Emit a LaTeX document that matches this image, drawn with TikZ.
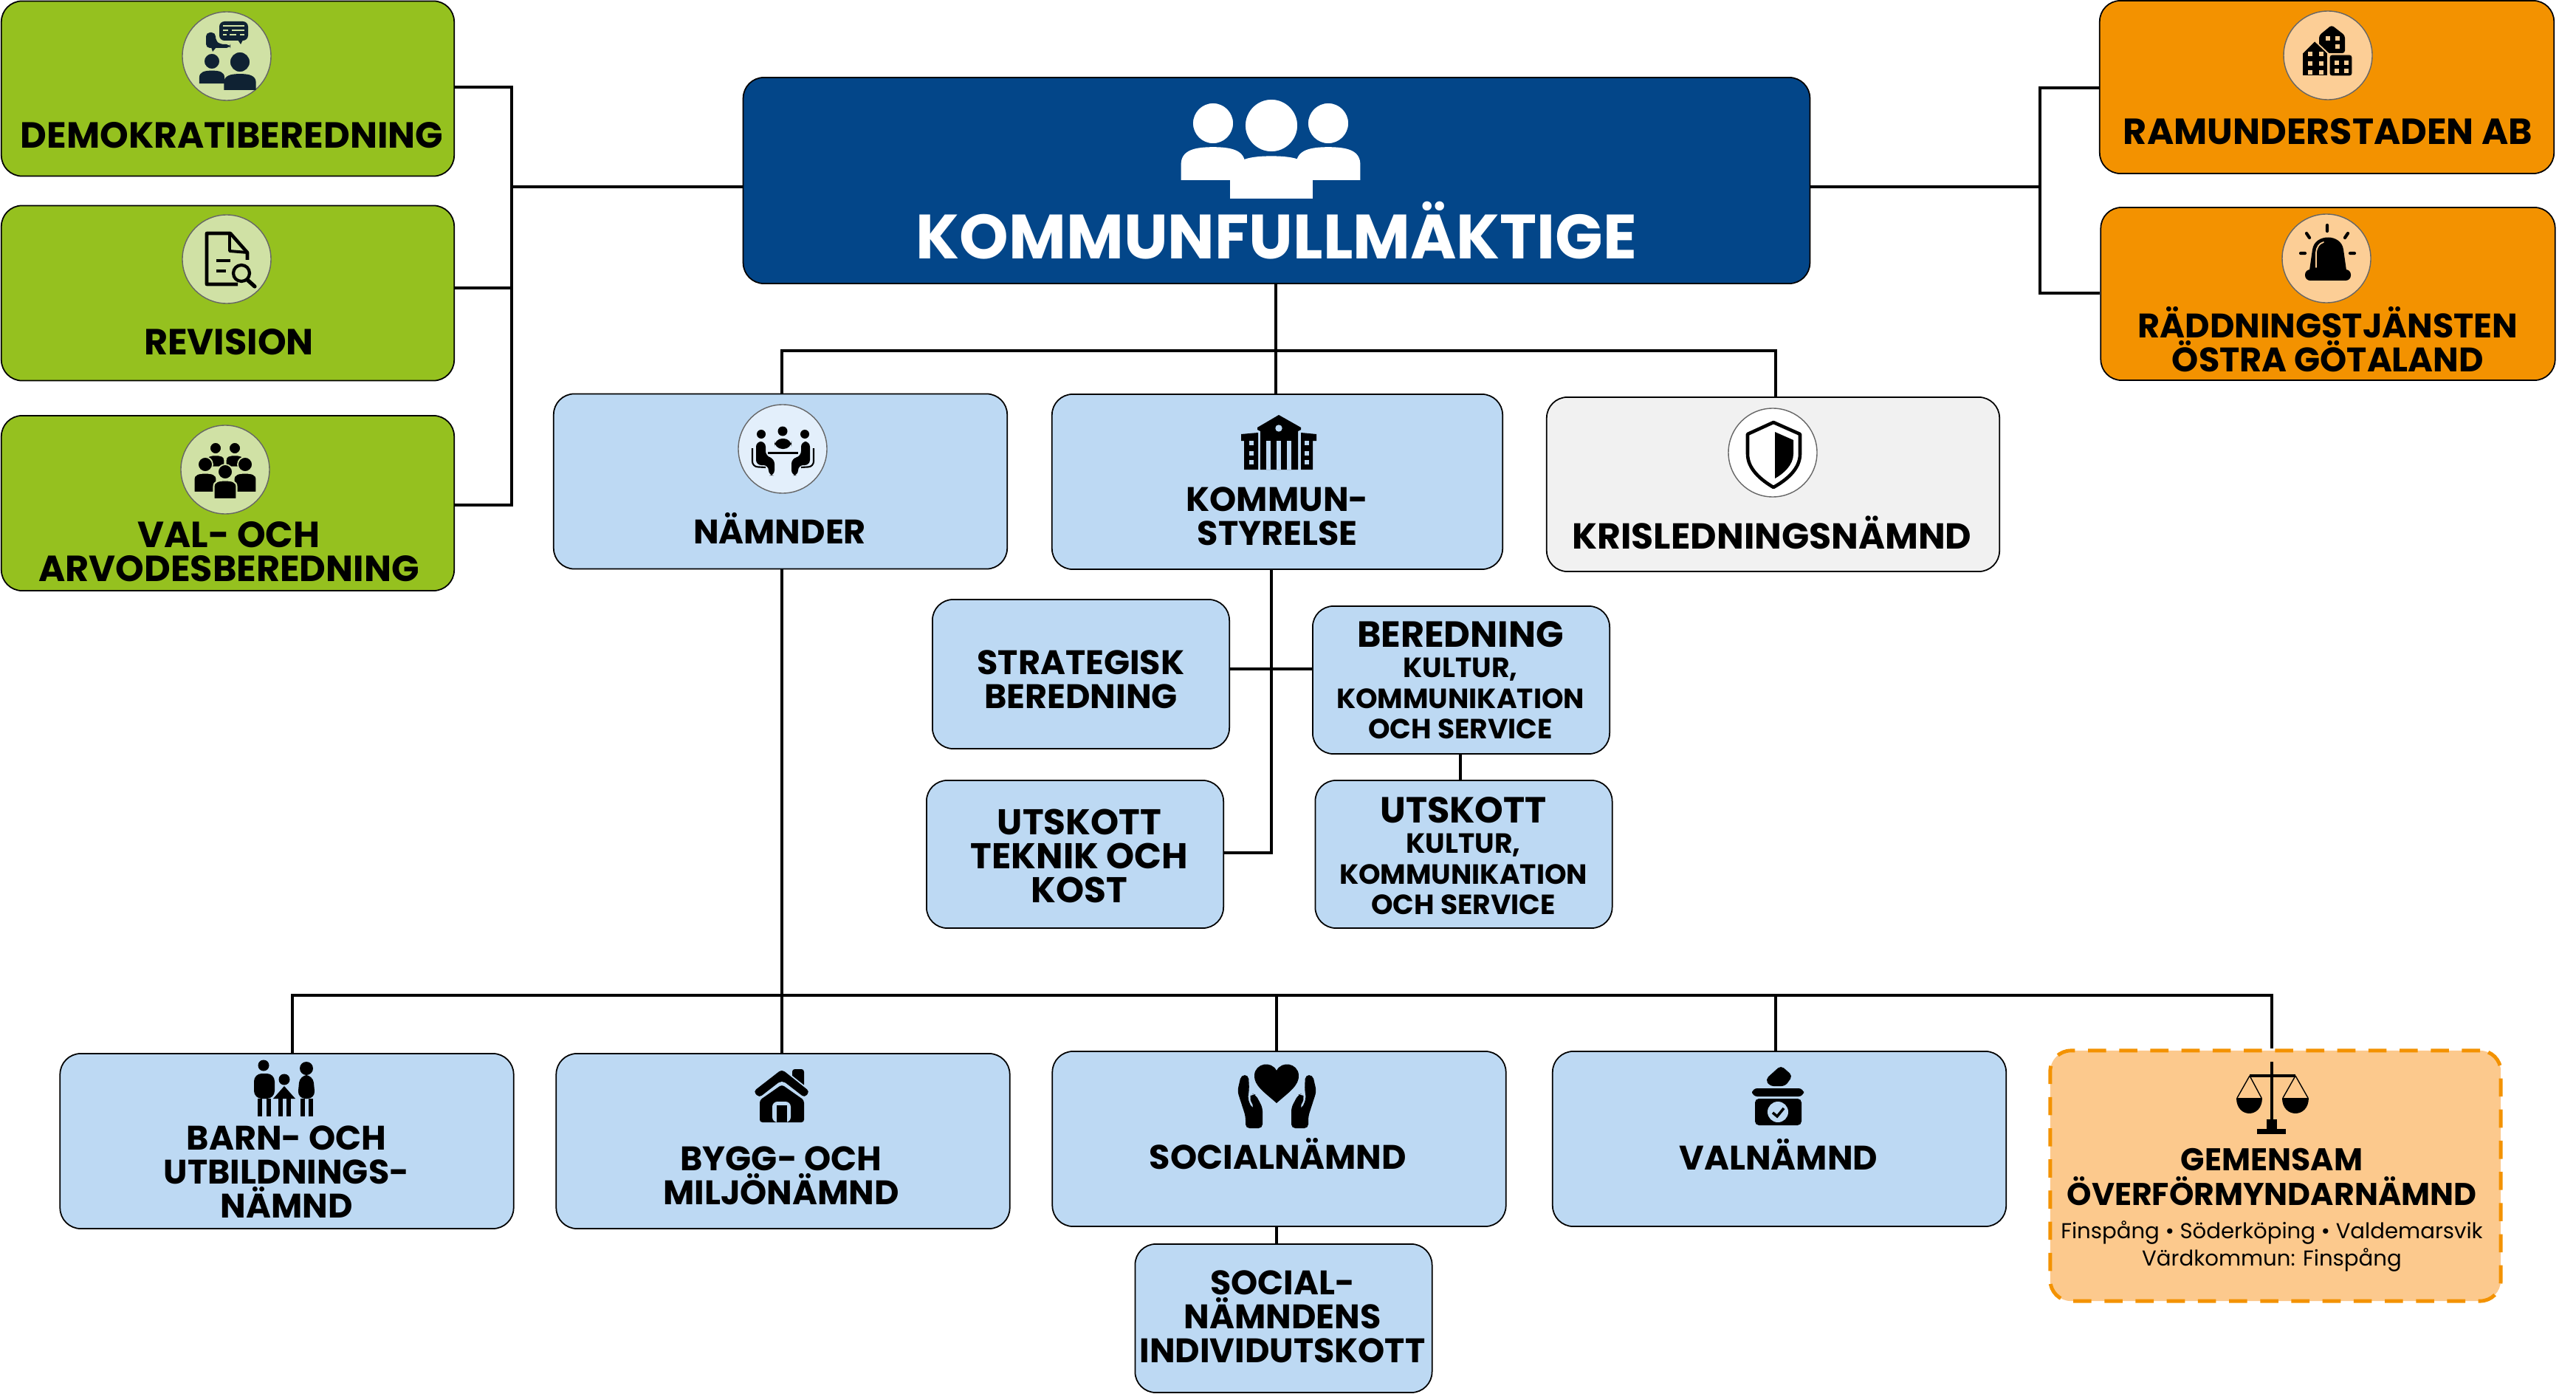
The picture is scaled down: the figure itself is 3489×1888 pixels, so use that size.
\documentclass[tikz,border=0pt]{standalone}
\usepackage{fontspec}
\setmainfont{Poppins}
\usepackage{xcolor}
\usetikzlibrary{positioning, calc}
\definecolor{kfblue}{RGB}{3,70,137}
\definecolor{greenfill}{RGB}{149,193,31}
\definecolor{greenicon}{RGB}{208,225,165}
\definecolor{orangefill}{RGB}{243,146,0}
\definecolor{orangeicon}{RGB}{252,206,150}
\definecolor{bluefill}{RGB}{189,217,243}
\definecolor{blueicon}{RGB}{227,239,251}
\definecolor{greyfill}{RGB}{241,241,241}
\definecolor{peachfill}{RGB}{252,201,141}
\definecolor{iconnavy}{RGB}{15,34,51}
% head and body of one person: x, y, head radius, colour, colour round the head, body length
\newcommand{\personicon}[6]{%
  \fill[#4, personbody] ({#1-1.55*#3},{#2+#6*#3}) -- ({#1-1.55*#3},{#2+2*#3})
    .. controls ({#1-1.55*#3},{#2+1.3*#3}) and ({#1-.9*#3},{#2+1.15*#3}) .. ({#1},{#2+1.15*#3})
    .. controls ({#1+.9*#3},{#2+1.15*#3}) and ({#1+1.55*#3},{#2+1.3*#3}) .. ({#1+1.55*#3},{#2+2*#3})
    -- ({#1+1.55*#3},{#2+#6*#3}) -- cycle;
  \filldraw[fill=#4, draw=#5, line width=.5pt] (#1,#2) circle (#3);
}
\begin{document}
\begin{tikzpicture}[
    x=0.01cm, y=-0.01cm,
    box/.style={rectangle, draw, line width=.5pt, rounded corners=8pt, inner sep=0pt, align=center},
    greenbox/.style={box, fill=greenfill, minimum width=6.13cm, minimum height=2.37cm},
    orangebox/.style={box, fill=orangefill, minimum width=6.15cm, minimum height=2.34cm},
    bluebox/.style={box, fill=bluefill, minimum width=6.14cm, minimum height=2.37cm},
    midbox/.style={box, fill=bluefill, minimum width=4.02cm, minimum height=2cm},
    boxtext/.style={inner sep=0pt, align=center, font=\fontsize{13.1}{13.1}\selectfont\bfseries},
    widetext/.style={boxtext, font=\fontsize{14}{13.1}\selectfont\bfseries},
    smalltext/.style={inner sep=0pt, align=center, font=\fontsize{10.7}{11.8}\selectfont\bfseries},
    iconcircle/.style={draw=black!60, line width=.4pt},
    personbody/.style={},
    conn/.style={draw, line width=1.2pt}
]
\useasboundingbox (0,0) rectangle (3489,1888);

\node[box, fill=kfblue, minimum width=14.44cm, minimum height=2.79cm] (kf) at (1729,244.5) {};
\node[inner sep=0pt, text=white, font=\fontsize{24.1}{24}\selectfont\bfseries] (kftext) at (1729,312) {KOMMUNFULLMÄKTIGE};

\node[greenbox] (demokrati) at (308.5,120) {};
\node[greenbox] (revision) at (308.5,397) {};
\node[greenbox] (valarvode) at (308.5,681.5) {};
\node[widetext] (demokratitext) at (314,183) {DEMOKRATIBEREDNING};
\node[widetext] (revisiontext) at (310,463) {REVISION};
\node[widetext] (valarvodetext) at (310,747) {VAL- OCH\\ ARVODESBEREDNING};

\node[orangebox] (ramunder) at (3151.5,118) {};
\node[orangebox, minimum height=2.34cm] (raddning) at (3153,398) {};
\node[widetext] (ramundertext) at (3153,178) {RAMUNDERSTADEN AB};
\node[boxtext] (raddningtext) at (3153,460) {RÄDDNINGSTJÄNSTEN\\ ÖSTRA GÖTALAND};

\node[bluebox] (namnder) at (1057,652) {};
\node[bluebox, minimum width=6.1cm] (styrelse) at (1730,652.5) {};
\node[box, fill=greyfill, minimum width=6.13cm, minimum height=2.36cm] (kris) at (2401.5,656) {};
\node[boxtext] (namndertext) at (1056,715) {NÄMNDER};
\node[boxtext] (styrelsetext) at (1730,699) {KOMMUN-\\ STYRELSE};
\node[boxtext, font=\fontsize{13.9}{13.1}\selectfont\bfseries] (kristext) at (2400,721) {KRISLEDNINGSNÄMND};

\node[midbox, minimum height=2.02cm] (strategisk) at (1464,913) {};
\node[midbox] (beredning) at (1979,921) {};
\node[midbox] (teknik) at (1456,1157) {};
\node[midbox] (kultur) at (1982.5,1157) {};
\node[boxtext] (strategisktext) at (1464,920) {STRATEGISK\\ BEREDNING};
\node[smalltext] (beredningtext) at (1978,921) {{\fontsize{14}{13}\selectfont BEREDNING}\\ KULTUR,\\ KOMMUNIKATION\\ OCH SERVICE};
\node[boxtext, font=\fontsize{13.8}{13.1}\selectfont\bfseries] (tekniktext) at (1462,1159) {UTSKOTT\\ TEKNIK OCH\\ KOST};
\node[smalltext] (kulturtext) at (1982,1159) {{\fontsize{14}{13}\selectfont UTSKOTT}\\ KULTUR,\\ KOMMUNIKATION\\ OCH SERVICE};

\node[bluebox] (barn) at (388.5,1545.5) {};
\node[bluebox] (bygg) at (1060.5,1545.5) {};
\node[bluebox] (social) at (1732.5,1542.5) {};
\node[bluebox] (valnamnd) at (2410,1542.5) {};
\node[box, fill=peachfill, draw=orangefill, line width=1.4pt, dash pattern=on 7pt off 5pt, minimum width=6.1cm, minimum height=3.39cm] (gemensam) at (3082,1592.5) {};
\node[midbox, minimum height=2.01cm] (individ) at (1738.5,1785.5) {};
\node[boxtext] (barntext) at (388,1587) {BARN- OCH\\ UTBILDNINGS-\\ NÄMND};
\node[boxtext] (byggtext) at (1058,1592) {BYGG- OCH\\ MILJÖNÄMND};
\node[boxtext] (socialtext) at (1731,1563) {SOCIALNÄMND};
\node[boxtext] (valnamndtext) at (2409,1563) {VALNÄMND};
\node[boxtext, font=\fontsize{12.1}{13.1}\selectfont\bfseries] (gemensamtext) at (3077,1594) {GEMENSAM\\ ÖVERFÖRMYNDARNÄMND};
\node[inner sep=0pt, align=center, font=\fontsize{8.3}{10.6}\selectfont] (kommunertext) at (3077,1688) {Finspång • Söderköping • Valdemarsvik\\ Värdkommun: Finspång};
\node[boxtext] (individtext) at (1737,1783) {SOCIAL-\\ NÄMNDENS\\ INDIVIDUTSKOTT};

% connectors on the left and right of the top box
\coordinate (ltop) at (693,118);
\coordinate (lmid) at (693,253);
\coordinate (lrev) at (693,390);
\coordinate (lbot) at (693,684);
\draw[conn] (demokrati.east |- ltop) -- (ltop) -- (lbot) -- (valarvode.east |- lbot);
\draw[conn] (revision.east |- lrev) -- (lrev);
\draw[conn] (kf.west |- lmid) -- (lmid);
\coordinate (rtop) at (2763,119);
\coordinate (rmid) at (2763,253);
\coordinate (rbot) at (2763,397);
\draw[conn] (ramunder.west |- rtop) -- (rtop) -- (rbot) -- (raddning.west |- rbot);
\draw[conn] (kf.east |- rmid) -- (rmid);

% first level
\coordinate (busmid) at (1728,475);
\coordinate (busleft) at (1059,475);
\coordinate (busright) at (2405,475);
\draw[conn] (kf.south -| busmid) -- (styrelse.north -| busmid);
\draw[conn] (namnder.north -| busleft) -- (busleft) -- (busright) -- (kris.north -| busright);

% below kommunstyrelse
\coordinate (ksline) at (1722,1155);
\coordinate (ksjoin) at (1722,906);
\draw[conn] (styrelse.south -| ksline) -- (ksline) -- (teknik.east |- ksline);
\draw[conn] (strategisk.east |- ksjoin) -- (beredning.west |- ksjoin);
\coordinate (kulturline) at (1978,1040);
\draw[conn] (beredning.south -| kulturline) -- (kultur.north -| kulturline);

% lower bus
\coordinate (lowmain) at (1059,1348);
\coordinate (lowbarn) at (396,1348);
\coordinate (lowsocial) at (1729,1348);
\coordinate (lowval) at (2405,1348);
\coordinate (lowgem) at (3077,1348);
\draw[conn] (namnder.south -| lowmain) -- (bygg.north -| lowmain);
\draw[conn] (barn.north -| lowbarn) -- (lowbarn) -- (lowgem) -- (gemensam.north -| lowgem);
\draw[conn] (social.north -| lowsocial) -- (lowsocial);
\draw[conn] (valnamnd.north -| lowval) -- (lowval);
\draw[conn] (social.south -| lowsocial) -- (individ.north -| lowsocial);

% round backgrounds of the icons
\filldraw[iconcircle, fill=greenicon] (307,76) circle (60);
\filldraw[iconcircle, fill=greenicon] (307,351) circle (60);
\filldraw[iconcircle, fill=greenicon] (305,636) circle (60);
\filldraw[iconcircle, fill=orangeicon] (3153,75) circle (60);
\filldraw[iconcircle, fill=orangeicon] (3151,350) circle (60);
\filldraw[iconcircle, fill=blueicon] (1060,608) circle (60);
\filldraw[iconcircle, fill=white] (2401,613) circle (60);

% people in the top box
\personicon{1643}{167}{28}{white}{kfblue}{2.75}
\personicon{1799}{167}{28}{white}{kfblue}{2.75}
\personicon{1722}{170}{36}{white}{kfblue}{2.75}

% demokratiberedning
\fill[iconnavy, rounded corners=1.5pt] (279,44) -- (292,44) -- (292,55) -- (298,60) -- (312,60) -- (312,65) -- (279,65) -- cycle;
\fill[iconnavy] (286,64) -- (288,70) -- (293,64) -- cycle;
\fill[iconnavy, rounded corners=2pt] (297,29) rectangle (336,55);
\fill[iconnavy] (322,54) -- (326,60) -- (329,54) -- cycle;
\draw[greenicon, line width=.3pt] (302,35) -- (331,35) (302,41) -- (309,41) (314,41) -- (331,41) (302,47) -- (307,47) (311,47) -- (320,47) (325,47) -- (331,47);
\personicon{287}{83}{11}{iconnavy}{greenicon}{2.75}
\personicon{325}{84}{14}{iconnavy}{greenicon}{2.7}

% revision
\draw[line width=1.3pt, line join=round] (335,352) -- (335,342) -- (312,316) -- (280,316) -- (280,385) -- (322,385);
\draw[line width=1.1pt, line join=round] (311,318) -- (311,340) -- (335,342);
\draw[line width=1.1pt] (293,353) -- (312,353) (293,367) -- (306,367);
\filldraw[fill=greenicon, line width=1.2pt] (327,370) circle (11);
\draw[line width=1.5pt, line cap=round] (335,379) -- (345,388);

% val- och arvodesberedning
\begin{scope}[personbody/.style={draw=greenicon, line width=.6pt}]
\personicon{292}{607}{8}{black}{greenicon}{3.2}
\personicon{318}{607}{8}{black}{greenicon}{3.2}
\personicon{278}{629}{10}{black}{greenicon}{3.8}
\personicon{332}{629}{10}{black}{greenicon}{3.8}
\personicon{305}{639}{10}{black}{greenicon}{3.7}
\end{scope}

% ramunderstaden
\fill[rounded corners=1pt] (3141,72) -- (3141,48) -- (3158,34) -- (3176,48) -- (3176,72) -- cycle;
\filldraw[draw=orangeicon, fill=black, line width=.5pt] (3118,103) -- (3118,72) -- (3135,55) -- (3153,72) -- (3153,103) -- cycle;
\filldraw[draw=orangeicon, fill=black, line width=.3pt, rounded corners=1pt] (3155,74) rectangle (3186,103);
\foreach \wx in {3126,3141} \foreach \wy in {70,83,95}
  \fill[orangeicon] (\wx,\wy) rectangle ++(6,6);
\foreach \wx in {3150,3163}
  \fill[orangeicon] (\wx,49) rectangle ++(6,6);
\fill[orangeicon] (3163,60) rectangle ++(6,6);
\foreach \wx in {3162,3175} \foreach \wy in {82,93}
  \fill[orangeicon] (\wx,\wy) rectangle ++(6,6);

% raddningstjansten
\fill (3128,366) -- (3132,338) .. controls (3135,316) and (3171,316) .. (3174,338) -- (3178,366) -- cycle;
\fill[rounded corners=2pt] (3122,365) rectangle (3184,380);
\draw[orangeicon, line width=.5pt, line cap=round] (3137,362) -- (3137,342) .. controls (3138,334) and (3141,330) .. (3147,328);
\draw[line width=1.2pt, line cap=round] (3152,305) -- (3152,313) (3124,316) -- (3128,322) (3180,316) -- (3176,322) (3116,343) -- (3122,343) (3183,343) -- (3189,343);

% namnder
\fill (1031,588) circle (6) (1060,584) circle (6.5) (1090,588) circle (6);
\fill[rounded corners=3pt] (1049,608) -- (1049,594) -- (1072,594) -- (1072,608) -- cycle;
\fill (1040,612) rectangle (1081,614.5);
\fill[rounded corners=2pt] (1024,598) -- (1037,598) -- (1037,618) -- (1049,621) -- (1049,644) -- (1041,644) -- (1041,630) -- (1024,630) -- cycle;
\fill[rounded corners=2pt] (1097,598) -- (1085,598) -- (1085,618) -- (1072,621) -- (1072,644) -- (1081,644) -- (1081,630) -- (1097,630) -- cycle;
\draw[line width=.6pt, rounded corners=2pt] (1019,607) -- (1019,632) -- (1037,633) (1102,607) -- (1102,632) -- (1085,633);

% kommunstyrelse
\fill (1707,636) -- (1707,584) -- (1703,582) -- (1703,579) -- (1732,562) -- (1762,579) -- (1762,582) -- (1758,584) -- (1758,636) -- cycle;
\fill (1685,636) -- (1685,597) -- (1681,597) -- (1681,588) -- (1704,586) -- (1704,636) -- cycle;
\fill (1778,636) -- (1778,597) -- (1783,597) -- (1783,588) -- (1762,586) -- (1762,636) -- cycle;
\fill[bluefill] (1732,580) circle (4.7);
\foreach \cx in {1715,1729,1743}
  \fill[bluefill] (\cx,597) rectangle ++(6,39);
\foreach \cy in {597,611,623} {
  \fill[bluefill] (1692,\cy) rectangle ++(6,6);
  \fill[bluefill] (1767,\cy) rectangle ++(6,6);
}

% krisledningsnamnd
\draw[line width=1.3pt, line join=round] (2402,572) -- (2367,588) -- (2367,615) .. controls (2367,635) and (2385,650) .. (2402,660) .. controls (2420,650) and (2438,635) .. (2438,615) -- (2438,588) -- cycle;
\fill (2404,585) -- (2429,596) -- (2429,615) .. controls (2429,630) and (2415,642) .. (2404,648) -- cycle;

% barn- och utbildningsnamnd
\fill (357,1443) circle (7.5) (415,1447) circle (9) (385,1462) circle (7.5);
\fill[rounded corners=3pt] (344,1488) -- (344,1454) -- (372,1454) -- (372,1488) -- cycle;
\fill[rounded corners=3pt] (403,1488) -- (406,1456) -- (424,1456) -- (427,1488) -- cycle;
\fill (370,1488) -- (385,1471) -- (400,1488) -- cycle;
\foreach \lx in {349,361,377,388,407,418}
  \fill (\lx,1488) rectangle ++(6,24);

% bygg- och miljonamnd
\fill[rounded corners=1pt] (1073,1448) rectangle (1089,1472);
\filldraw[draw=bluefill, fill=black, line width=.5pt, rounded corners=1.5pt] (1059,1447) -- (1098,1478) -- (1090,1488) -- (1059,1464) -- (1028,1488) -- (1019,1478) -- cycle;
\fill[rounded corners=1pt] (1029,1490) -- (1059,1469) -- (1089,1490) -- (1089,1520) -- (1029,1520) -- cycle;
\fill[bluefill, rounded corners=2pt] (1046,1520) -- (1046,1492) -- (1071,1492) -- (1071,1520) -- cycle;
\fill (1052,1497) rectangle (1066,1520);

% socialnamnd
\fill (1729,1494) .. controls (1712,1479) and (1698,1470) .. (1699,1456) .. controls (1700,1440) and (1722,1436) .. (1729,1450) .. controls (1736,1436) and (1758,1440) .. (1759,1456) .. controls (1760,1470) and (1746,1479) .. (1729,1494) -- cycle;
\fill[rounded corners=1.5pt] (1687,1528) -- (1687,1512) -- (1676,1478) -- (1681,1456) -- (1691,1456) -- (1692,1475) -- (1690,1488) -- (1696,1502) -- (1699,1501) -- (1692,1487) -- (1696,1481) -- (1701,1483) -- (1710,1500) -- (1710,1528) -- cycle;
\fill[rounded corners=1.5pt] (1772,1528) -- (1772,1512) -- (1783,1478) -- (1778,1456) -- (1768,1456) -- (1767,1475) -- (1769,1488) -- (1763,1502) -- (1760,1501) -- (1767,1487) -- (1763,1481) -- (1758,1483) -- (1749,1500) -- (1749,1528) -- cycle;

% valnamnd
\fill[rounded corners=1.5pt] (2412,1443) -- (2428,1457) -- (2418,1471) -- (2397,1471) -- (2391,1462) -- cycle;
\fill[rounded corners=2pt] (2373,1474) rectangle (2443,1485);
\fill[rounded corners=1.5pt] (2377,1488) rectangle (2440,1524);
\fill[bluefill] (2408,1506) circle (14);
\draw[line width=1pt] (2401,1507) -- (2407,1512) -- (2416,1501);

% gemensam overformyndarnamnd
\draw[line width=1pt] (3077,1438) -- (3077,1530);
\draw[line width=1.2pt] (3047,1457) -- (3109,1457);
\draw[line width=.4pt] (3047,1457) -- (3030,1487) (3047,1457) -- (3063,1487) (3109,1457) -- (3092,1487) (3109,1457) -- (3126,1487);
\fill (3029,1487) .. controls (3029,1515) and (3064,1515) .. (3064,1487) -- cycle;
\fill (3091,1487) .. controls (3091,1515) and (3127,1515) .. (3127,1487) -- cycle;
\fill (3070,1516) rectangle (3084,1530);
\fill (3057,1529) rectangle (3096,1536);
\end{tikzpicture}
\end{document}
